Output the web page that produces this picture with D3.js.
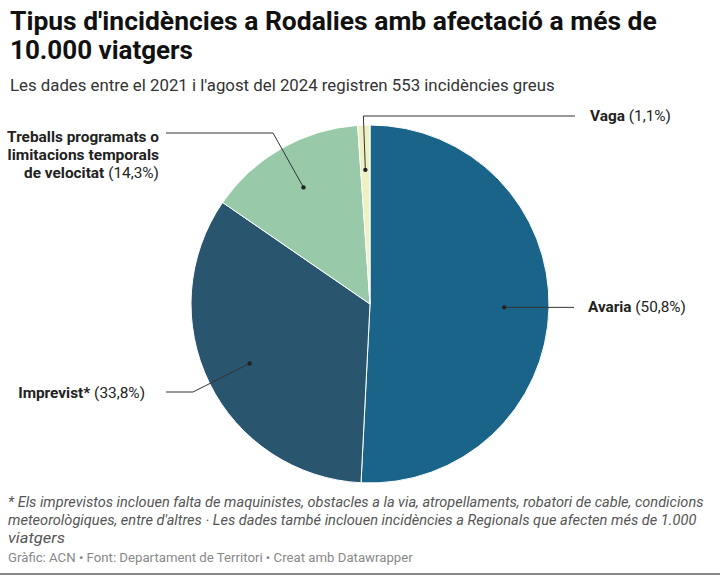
<!DOCTYPE html>
<html>
<head>
<meta charset="utf-8">
<script src="https://cdn.jsdelivr.net/npm/d3@7"></script>
<style>
  body { margin: 0; background: #fff; }
  svg { display: block; font-family: Roboto, "Noto Sans", sans-serif; }
</style>
</head>
<body>
<svg id="chart" width="720" height="576"></svg>
<script>
// data
var categories = ["Avaria", "Imprevist*", "Treballs programats o limitacions temporals de velocitat", "Vaga"];
var values = [50.8, 33.8, 14.3, 1.1];
var colors = ["#1b6489", "#2a556f", "#98caa9", "#eef2c3"];
var labelLines = [["Avaria"], ["Imprevist*"], ["Treballs programats o", "limitacions temporals", "de velocitat"], ["Vaga"]];

var titleLines = ["Tipus d'incidències a Rodalies amb afectació a més de", "10.000 viatgers"];
var subtitle = "Les dades entre el 2021 i l'agost del 2024 registren 553 incidències greus";
var notes = ["* Els imprevistos inclouen falta de maquinistes, obstacles a la via, atropellaments, robatori de cable, condicions",
  "meteorològiques, entre d'altres · Les dades també inclouen incidències a Regionals que afecten més de 1.000",
  "viatgers"];
var credit = "Gràfic: ACN • Font: Departament de Territori • Creat amb Datawrapper";

var svg = d3.select("#chart");
var cx = 370, cy = 304, radius = 179;
var fmt = function (v) { return "(" + d3.format(".1f")(v).replace(".", ",") + "%)"; };

// squeeze a text element horizontally so it takes the given width
function fit(sel, width) {
    sel.each(function () {
        var node = this, w = node.getComputedTextLength();
        var x = +node.getAttribute("x") || 0;
        var k = width / w;
        node.setAttribute("transform", "translate(" + x + ",0) scale(" + k + ",1) translate(" + (-x) + ",0)");
    });
}

// header
svg.selectAll(".title").data(titleLines).enter().append("text")
    .attr("class", "title")
    .attr("x", 10).attr("y", function (d, i) { return 30 + i * 29; })
    .attr("font-size", 26).attr("font-weight", 700).attr("fill", "#111")
    .text(function (d) { return d; })
    .each(function (d, i) { fit(d3.select(this), i == 0 ? 647 : 183); });

svg.append("text").attr("x", 10).attr("y", 91)
    .attr("font-size", 17).attr("fill", "#333").text(subtitle)
    .call(fit, 545);

// pie
var pie = d3.pie().sort(null).value(function (d) { return d; });
var arcs = pie(values);
var arc = d3.arc().innerRadius(0).outerRadius(radius);
var inner = d3.arc().innerRadius(radius * 0.75).outerRadius(radius * 0.75);

var g = svg.append("g").attr("transform", "translate(" + cx + "," + cy + ")");
g.selectAll("path").data(arcs).enter().append("path")
    .attr("d", arc)
    .attr("fill", function (d, i) { return colors[i]; })
    .attr("stroke", "#fff").attr("stroke-width", 1);

// leader lines: dot at slice, knee, end (end/knee in page coords)
var leaders = [
    { knee: null, end: [574, 307], tx: 588, ty: 307, anchor: "start", w: 98 },
    { knee: [193, 392], end: [166, 392], tx: 145, ty: 393, anchor: "end", w: 127 },
    { knee: [273, 133], end: [166, 133], tx: 159, ty: 137, anchor: "end", w: 152 },
    { knee: "up", end: [575, 116], tx: 590, ty: 116, anchor: "start", w: 81 }
];

arcs.forEach(function (a, i) {
    var c = inner.centroid(a), p = [cx + c[0], cy + c[1]];
    var L = leaders[i], pts = [p];
    if (L.knee == "up") pts.push([p[0] - 2, L.end[1]]);
    else if (L.knee) pts.push(L.knee);
    if (!L.knee) pts.push([L.end[0], p[1]]); else pts.push(L.end);
    svg.append("path").attr("d", d3.line()(pts))
        .attr("fill", "none").attr("stroke", "#333").attr("stroke-width", 1);
    svg.append("circle").attr("cx", p[0]).attr("cy", p[1]).attr("r", 2.2).attr("fill", "#222");

    var lines = labelLines[i];
    lines.forEach(function (ln, j) {
        var t = svg.append("text").attr("x", L.tx).attr("y", L.ty + 5 + j * 18)
            .attr("text-anchor", L.anchor).attr("font-size", 15).attr("fill", "#222");
        t.append("tspan").attr("font-weight", 700).text(ln);
        if (j == lines.length - 1) t.append("tspan").attr("font-weight", 400).text(" " + fmt(values[i]));
        var bb = t.node().getBBox();
        var target = (lines.length > 1 && j == 2) ? 135 : L.w;
        var k = target / bb.width;
        t.attr("transform", "translate(" + L.tx + ",0) scale(" + k + ",1) translate(" + (-L.tx) + ",0)");
    });
});

// notes and credit
svg.selectAll(".note").data(notes).enter().append("text")
    .attr("class", "note")
    .attr("x", 8).attr("y", function (d, i) { return 507 + i * 18; })
    .attr("font-size", 14).attr("font-style", "italic").attr("fill", "#555")
    .text(function (d) { return d; })
    .each(function (d, i) { fit(d3.select(this), [696, 689, 57][i]); });

svg.append("text").attr("x", 8).attr("y", 562)
    .attr("font-size", 13).attr("fill", "#888").text(credit)
    .call(fit, 405);

svg.append("line").attr("x1", 0).attr("x2", 720).attr("y1", 574).attr("y2", 574)
    .attr("stroke", "#888").attr("stroke-width", 2);
</script>
</body>
</html>
